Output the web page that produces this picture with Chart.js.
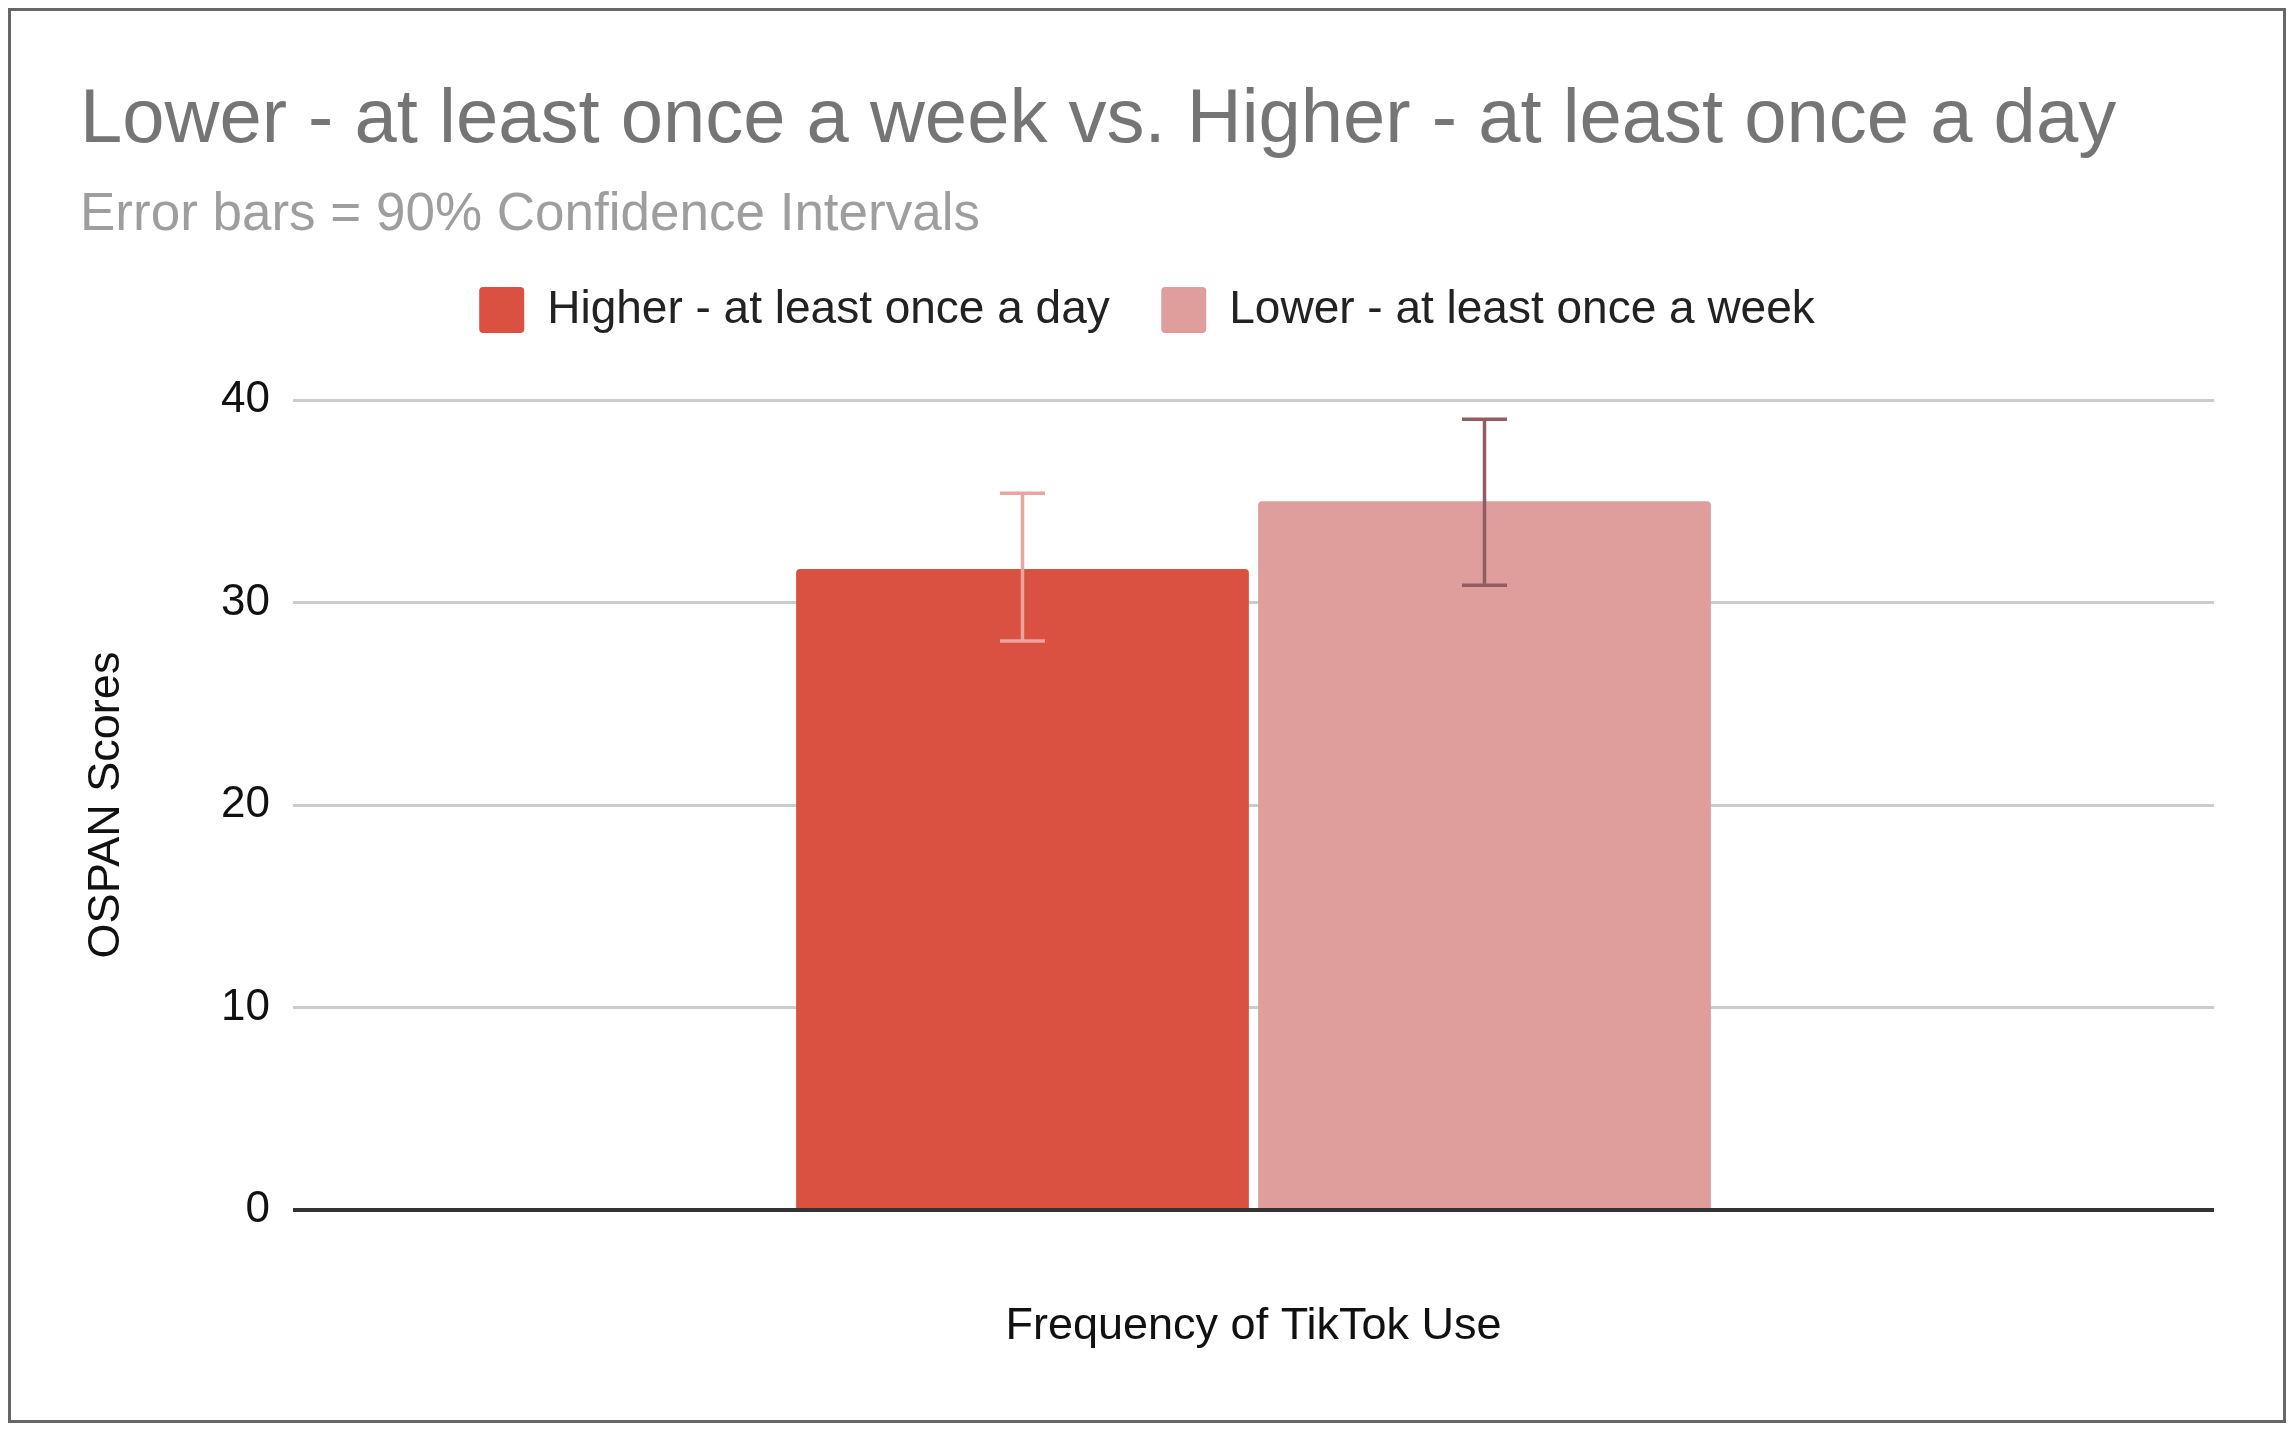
<!DOCTYPE html>
<html>
<head>
<meta charset="utf-8">
<script src="https://cdn.jsdelivr.net/npm/chart.js@4.4.1/dist/chart.umd.min.js"></script>
<style>
  html, body { margin: 0; padding: 0; background: #fff; }
  #wrap { position: relative; width: 2294px; height: 1432px; }
  #frame { position: absolute; left: 8px; top: 8px; width: 2272px; height: 1409px; border: 3px solid #666; pointer-events: none; }
</style>
</head>
<body>
<div id="wrap">
  <canvas id="chart" width="2294" height="1432"></canvas>
  <div id="frame"></div>
</div>
<script>
  // values
  const categories = [""];
  const seriesNames = ["Higher - at least once a day", "Lower - at least once a week"];
  const seriesValues = [31.65, 35.0];
  const errorLow = [28.1, 30.85];
  const errorHigh = [35.4, 39.05];
  const yTicks = [0, 10, 20, 30, 40];

  const barColors = ["#da5141", "#df9e9c"];
  const errorColors = ["#eba49e", "#8f5d62"];
  const FONT = "'Liberation Sans', Arial, sans-serif";

  // draws the confidence interval whiskers on top of each bar
  const errorBars = {
    id: "errorBars",
    afterDatasetsDraw(chart) {
      const ctx = chart.ctx, y = chart.scales.y;
      chart.data.datasets.forEach((ds, i) => {
        const bar = chart.getDatasetMeta(i).data[0];
        const top = y.getPixelForValue(errorHigh[i]);
        const bot = y.getPixelForValue(errorLow[i]);
        ctx.save();
        ctx.strokeStyle = errorColors[i];
        ctx.lineWidth = 3.5;
        ctx.beginPath();
        ctx.moveTo(bar.x, top); ctx.lineTo(bar.x, bot);
        ctx.moveTo(bar.x - 22.5, top); ctx.lineTo(bar.x + 22.5, top);
        ctx.moveTo(bar.x - 22.5, bot); ctx.lineTo(bar.x + 22.5, bot);
        ctx.stroke();
        ctx.restore();
      });
    }
  };

  new Chart(document.getElementById("chart"), {
    type: "bar",
    data: {
      labels: categories,
      datasets: seriesNames.map((name, i) => ({
        label: name,
        data: [seriesValues[i]],
        backgroundColor: barColors[i],
        borderWidth: 0,
        borderRadius: { topLeft: 4, topRight: 4 },
        categoryPercentage: 0.481,
        barPercentage: 0.98
      }))
    },
    options: {
      responsive: false,
      animation: false,
      layout: { padding: { top: 0, left: 80, right: 80, bottom: 0 } },
      plugins: {
        tooltip: { enabled: false },
        title: {
          display: true, align: "start", color: "#757575",
          text: "Lower - at least once a week vs. Higher - at least once a day",
          font: { family: FONT, size: 76, weight: "normal", lineHeight: 1 },
          padding: { top: 83, bottom: 0 }
        },
        subtitle: {
          display: true, align: "start", color: "#9e9e9e",
          text: "Error bars = 90% Confidence Intervals",
          font: { family: FONT, size: 53, weight: "normal", lineHeight: 0 },
          padding: { top: 56, bottom: 20.5 }
        },
        legend: {
          display: true, position: "top",
          labels: {
            color: "#222", boxWidth: 45, boxHeight: 46, padding: 51.5,
            useBorderRadius: true, borderRadius: 4,
            font: { family: FONT, size: 46 }
          }
        }
      },
      scales: {
        x: {
          grid: { display: false },
          border: { display: false },
          ticks: { display: false },
          title: {
            display: true, text: "Frequency of TikTok Use", color: "#111",
            font: { family: FONT, size: 45, lineHeight: 1 },
            padding: { top: 0, bottom: 82.5 }
          },
          afterFit: s => { s.height = 222; }
        },
        spacer: {
          type: "category", position: "top", display: true,
          grid: { display: false }, border: { display: false }, ticks: { display: false },
          afterFit: s => { s.height = 57; }
        },
        y: {
          min: yTicks[0], max: yTicks[yTicks.length - 1],
          border: { display: false },
          afterBuildTicks: s => { s.ticks = yTicks.map(v => ({ value: v })); },
          grid: {
            drawTicks: false,
            color: c => c.tick && c.tick.value === 0 ? "#333333" : "#cccccc",
            lineWidth: c => c.tick && c.tick.value === 0 ? 4 : 3
          },
          ticks: { color: "#111", padding: 23, font: { family: FONT, size: 44 } },
          title: {
            display: true, text: "OSPAN Scores", color: "#111",
            font: { family: FONT, size: 45, lineHeight: 1 },
            padding: { top: 4, bottom: 0 }
          },
          afterFit: s => { s.width = 213; }
        }
      }
    },
    plugins: [errorBars]
  });
</script>
</body>
</html>
